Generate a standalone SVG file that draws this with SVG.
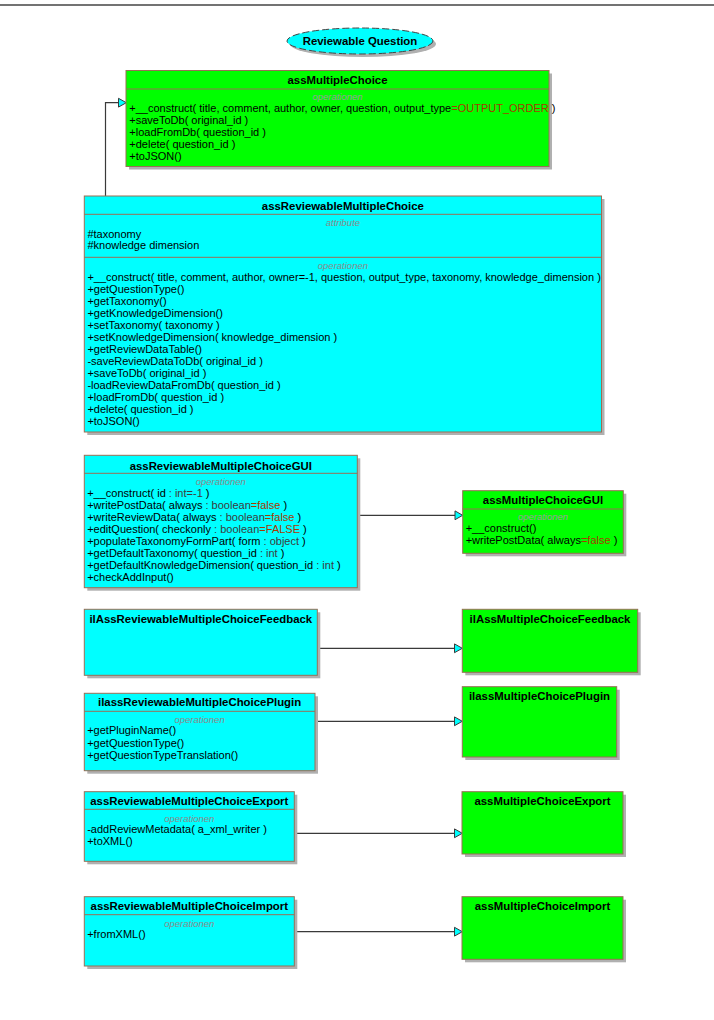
<svg xmlns="http://www.w3.org/2000/svg" width="714" height="1020" viewBox="0 0 714 1020">
<style>
text{font-family:"Liberation Sans",Arial,sans-serif;fill:#000}
.t{font-size:11.4px;font-weight:bold;text-anchor:middle}
.m{font-size:11px}
.s{font-size:9.5px;font-style:italic;fill:#8a8a8a;text-anchor:middle}
.sg{fill:#9c9c9c}
.d{fill:#a83a00}
.ty{fill:#3c3c3c}
.sh{fill:#b0b0b0}
.cy{fill:#00ffff;stroke:#9a6e55;stroke-width:1}
.gr{fill:#00ff00;stroke:#9a6e55;stroke-width:1}
.dv{stroke:#9a6e55;stroke-width:1}
.ln{fill:none;stroke:#3a3a3a;stroke-width:1.2}
.ah{fill:#00ffff;stroke:#3a3a3a;stroke-width:1}
</style>
<rect x="0" y="0" width="714" height="1020" fill="#fff"/>
<line x1="0" y1="5" x2="714" y2="5" stroke="#444" stroke-width="1.5"/>

<g id="title">
<ellipse cx="363" cy="44" rx="73" ry="13" class="sh"/>
<ellipse cx="360" cy="41" rx="73" ry="13" fill="#00ffff" stroke="#444" stroke-width="1" stroke-dasharray="7,3"/>
<text x="360" y="45" class="t">Reviewable Question</text>
</g>

<g id="connectors">
<polyline class="ln" points="105.5,196 105.5,102.7 118.5,102.7"/>
<polygon class="ah" points="118.5,98.3 126.3,102.7 118.5,107.1"/>
<line class="ln" x1="357.3" y1="515.3" x2="455" y2="515.3"/>
<polygon class="ah" points="455,510.9 462.7,515.3 455,519.7"/>
<line class="ln" x1="317.3" y1="648.3" x2="454.5" y2="648.3"/>
<polygon class="ah" points="454.5,643.9 462.3,648.3 454.5,652.7"/>
<line class="ln" x1="315" y1="721.3" x2="454.5" y2="721.3"/>
<polygon class="ah" points="454.5,716.9 462.3,721.3 454.5,725.7"/>
<line class="ln" x1="294.3" y1="833.3" x2="454.5" y2="833.3"/>
<polygon class="ah" points="454.5,828.9 462.3,833.3 454.5,837.7"/>
<line class="ln" x1="294.3" y1="931.7" x2="454.5" y2="931.7"/>
<polygon class="ah" points="454.5,927.3 462.3,931.7 454.5,936.1"/>
</g>

<g id="assMultipleChoice">
<rect x="129" y="73.5" width="423" height="96" class="sh"/>
<rect x="126" y="70.5" width="423" height="96" class="gr"/>
<line x1="126" y1="89" x2="549" y2="89" class="dv"/>
<text x="337.5" y="83.5" class="t">assMultipleChoice</text>
<text x="337.5" y="99.8" class="s sg">operationen</text>
<text x="129.3" y="112" class="m">+__construct( title, comment, author, owner, question, output_type<tspan class="d">=OUTPUT_ORDER</tspan> )</text>
<text x="129.3" y="124" class="m">+saveToDb( original_id )</text>
<text x="129.3" y="136" class="m">+loadFromDb( question_id )</text>
<text x="129.3" y="148" class="m">+delete( question_id )</text>
<text x="129.3" y="160" class="m">+toJSON()</text>
</g>

<g id="assReviewableMultipleChoice">
<rect x="87.3" y="199" width="517.2" height="236" class="sh"/>
<rect x="84.3" y="196" width="517.2" height="236" class="cy"/>
<line x1="84.3" y1="214.3" x2="601.5" y2="214.3" class="dv"/>
<line x1="84.3" y1="257.3" x2="601.5" y2="257.3" class="dv"/>
<text x="342.9" y="209.5" class="t">assReviewableMultipleChoice</text>
<text x="342.9" y="226" class="s">attribute</text>
<text x="87.4" y="237.5" class="m">#taxonomy</text>
<text x="87.4" y="249.3" class="m">#knowledge dimension</text>
<text x="342.9" y="268.5" class="s">operationen</text>
<text x="87.4" y="280.5" class="m">+__construct( title, comment, author, owner=-1, question, output_type, taxonomy, knowledge_dimension )</text>
<text x="87.4" y="292.5" class="m">+getQuestionType()</text>
<text x="87.4" y="304.5" class="m">+getTaxonomy()</text>
<text x="87.4" y="316.5" class="m">+getKnowledgeDimension()</text>
<text x="87.4" y="328.5" class="m">+setTaxonomy( taxonomy )</text>
<text x="87.4" y="340.5" class="m">+setKnowledgeDimension( knowledge_dimension )</text>
<text x="87.4" y="352.5" class="m">+getReviewDataTable()</text>
<text x="87.4" y="364.5" class="m">-saveReviewDataToDb( original_id )</text>
<text x="87.4" y="376.5" class="m">+saveToDb( original_id )</text>
<text x="87.4" y="388.5" class="m">-loadReviewDataFromDb( question_id )</text>
<text x="87.4" y="400.5" class="m">+loadFromDb( question_id )</text>
<text x="87.4" y="412.5" class="m">+delete( question_id )</text>
<text x="87.4" y="424.5" class="m">+toJSON()</text>
</g>

<g id="assReviewableMultipleChoiceGUI">
<rect x="87.3" y="458.3" width="273" height="132.4" class="sh"/>
<rect x="84.3" y="455.3" width="273" height="132.4" class="cy"/>
<line x1="84.3" y1="473.3" x2="357.3" y2="473.3" class="dv"/>
<text x="220.8" y="469.5" class="t">assReviewableMultipleChoiceGUI</text>
<text x="220.8" y="485" class="s">operationen</text>
<text x="87.2" y="497" class="m">+__construct( id <tspan class="ty">: int=-1</tspan> )</text>
<text x="87.2" y="509" class="m">+writePostData( always <tspan class="ty">: boolean</tspan><tspan class="d">=false</tspan> )</text>
<text x="87.2" y="521" class="m">+writeReviewData( always <tspan class="ty">: boolean</tspan><tspan class="d">=false</tspan> )</text>
<text x="87.2" y="533" class="m">+editQuestion( checkonly <tspan class="ty">: boolean</tspan><tspan class="d">=FALSE</tspan> )</text>
<text x="87.2" y="545" class="m">+populateTaxonomyFormPart( form <tspan class="ty">: object</tspan> )</text>
<text x="87.2" y="557" class="m">+getDefaultTaxonomy( question_id <tspan class="ty">: int</tspan> )</text>
<text x="87.2" y="569" class="m">+getDefaultKnowledgeDimension( question_id <tspan class="ty">: int</tspan> )</text>
<text x="87.2" y="581" class="m">+checkAddInput()</text>
</g>

<g id="assMultipleChoiceGUI">
<rect x="465.7" y="493.7" width="160.6" height="62.6" class="sh"/>
<rect x="462.7" y="490.7" width="160.6" height="62.6" class="gr"/>
<line x1="462.7" y1="509" x2="623.3" y2="509" class="dv"/>
<text x="543" y="503.5" class="t">assMultipleChoiceGUI</text>
<text x="543" y="520" class="s sg">operationen</text>
<text x="465.7" y="532" class="m">+__construct()</text>
<text x="465.7" y="543.7" class="m">+writePostData( always<tspan class="d">=false</tspan> )</text>
</g>

<g id="ilAssReviewableMultipleChoiceFeedback">
<rect x="87.3" y="612.3" width="233" height="66" class="sh"/>
<rect x="84.3" y="609.3" width="233" height="66" class="cy"/>
<text x="200.8" y="622.5" class="t">ilAssReviewableMultipleChoiceFeedback</text>
</g>

<g id="ilAssMultipleChoiceFeedback">
<rect x="465.3" y="612.3" width="175.4" height="63" class="sh"/>
<rect x="462.3" y="609.3" width="175.4" height="63" class="gr"/>
<text x="550" y="622.5" class="t">ilAssMultipleChoiceFeedback</text>
</g>

<g id="ilassReviewableMultipleChoicePlugin">
<rect x="87.3" y="696.3" width="230.7" height="77.4" class="sh"/>
<rect x="84.3" y="693.3" width="230.7" height="77.4" class="cy"/>
<line x1="84.3" y1="711.3" x2="315" y2="711.3" class="dv"/>
<text x="199.6" y="706" class="t">ilassReviewableMultipleChoicePlugin</text>
<text x="199.6" y="723" class="s">operationen</text>
<text x="87.2" y="734.3" class="m">+getPluginName()</text>
<text x="87.2" y="746.5" class="m">+getQuestionType()</text>
<text x="87.2" y="758.6" class="m">+getQuestionTypeTranslation()</text>
</g>

<g id="ilassMultipleChoicePlugin">
<rect x="465.3" y="689.7" width="154.4" height="70.3" class="sh"/>
<rect x="462.3" y="686.7" width="154.4" height="70.3" class="gr"/>
<text x="539.5" y="700" class="t">ilassMultipleChoicePlugin</text>
</g>

<g id="assReviewableMultipleChoiceExport">
<rect x="87.3" y="794.7" width="210" height="69.6" class="sh"/>
<rect x="84.3" y="791.7" width="210" height="69.6" class="cy"/>
<line x1="84.3" y1="809.3" x2="294.3" y2="809.3" class="dv"/>
<text x="189.3" y="805" class="t">assReviewableMultipleChoiceExport</text>
<text x="189.3" y="821.5" class="s">operationen</text>
<text x="87.2" y="833" class="m">-addReviewMetadata( a_xml_writer )</text>
<text x="87.2" y="845" class="m">+toXML()</text>
</g>

<g id="assMultipleChoiceExport">
<rect x="465" y="794.7" width="161" height="62.3" class="sh"/>
<rect x="462" y="791.7" width="161" height="62.3" class="gr"/>
<text x="542.5" y="805" class="t">assMultipleChoiceExport</text>
</g>

<g id="assReviewableMultipleChoiceImport">
<rect x="87.3" y="899.7" width="210" height="69.3" class="sh"/>
<rect x="84.3" y="896.7" width="210" height="69.3" class="cy"/>
<line x1="84.3" y1="914.7" x2="294.3" y2="914.7" class="dv"/>
<text x="189.3" y="910" class="t">assReviewableMultipleChoiceImport</text>
<text x="189.3" y="927" class="s">operationen</text>
<text x="87.2" y="938" class="m">+fromXML()</text>
</g>

<g id="assMultipleChoiceImport">
<rect x="465" y="899.7" width="161" height="62.6" class="sh"/>
<rect x="462" y="896.7" width="161" height="62.6" class="gr"/>
<text x="542.5" y="910" class="t">assMultipleChoiceImport</text>
</g>
</svg>
